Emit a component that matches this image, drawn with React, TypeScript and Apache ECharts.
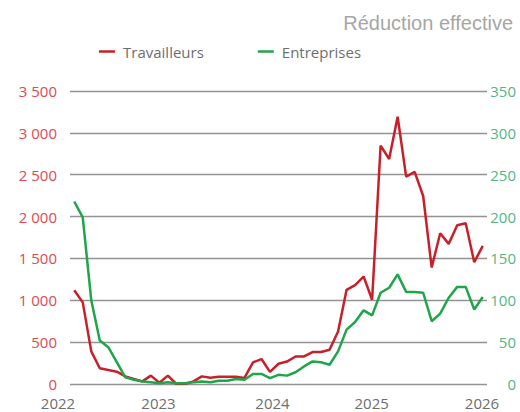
import React, { useEffect, useRef } from "react";
import * as echarts from "echarts";

// ---- Data ----
const months: string[] = (() => {
  const out: string[] = [];
  for (let y = 2022; y <= 2026; y++) {
    for (let m = 1; m <= 12; m++) {
      if (out.length < 49) out.push(`${y}-${String(m).padStart(2, "0")}`);
    }
  }
  return out;
})();

const travailleurs = [
  1120, 975, 390, 188, 168, 147, 91, 60, 31, 100, 15, 100, 0, 0, 31, 91, 75, 87,
  87, 87, 72, 258, 298, 145, 242, 268, 329, 329, 382, 382, 409, 628, 1125, 1181,
  1284, 1006, 2847, 2688, 3193, 2477, 2533, 2246, 1391, 1801, 1674, 1897, 1921,
  1455, 1650,
];

const entreprises = [
  218, 199, 100, 52, 44, 26, 8, 5, 3, 2, 1, 2, 1, 1, 2, 3, 2, 4, 4, 6, 5, 12, 12,
  7, 11, 10, 14, 21, 27, 26, 23, 39, 65, 74, 88, 82, 109, 115, 131, 110, 110, 109,
  75, 84, 103, 116, 116, 89, 104,
];

const yearLabels = ["2022", "2023", "2024", "2025", "2026"];
const seriesNames = ["Travailleurs", "Entreprises"];
const titleText = "Réduction effective";

// ---- Layout / style ----
const yearLabelX = [58, 158.5, 272.5, 371.7, 482];
const RED = "#c8202a";
const GREEN = "#1fa64a";
const FONT = "'Open Sans', sans-serif";

const fmtThousands = (v: number) =>
  String(v).replace(/\B(?=(\d{3})+(?!\d))/g, " ");

export default function App() {
  const ref = useRef<HTMLDivElement>(null);

  useEffect(() => {
    if (!ref.current) return;
    const chart = echarts.init(ref.current, undefined, { renderer: "svg" });
    chart.setOption({
      animation: false,
      backgroundColor: "#ffffff",
      title: {
        text: titleText,
        right: 2,
        top: 8,
        textStyle: {
          fontFamily: "'Liberation Sans', Arial, sans-serif",
          fontSize: 20,
          fontWeight: "normal",
          color: "#a6a6a6",
        },
      },
      legend: {
        left: 94,
        top: 39,
        icon: "rect",
        itemWidth: 16,
        itemHeight: 2.5,
        itemGap: 54,
        textStyle: {
          fontFamily: FONT,
          fontSize: 15,
          color: "#6e6e6e",
          padding: [0, 0, 0, 3],
        },
        data: seriesNames,
      },
      grid: { left: 70, right: 33, top: 91, bottom: 28 },
      xAxis: {
        type: "category",
        data: months,
        boundaryGap: true,
        axisLine: { show: false },
        axisTick: { show: false },
        axisLabel: { show: false },
        splitLine: { show: false },
      },
      yAxis: [
        {
          type: "value",
          min: 0,
          max: 3500,
          interval: 500,
          axisLine: { show: false },
          axisTick: { show: false },
          axisLabel: {
            margin: 13,
            fontFamily: FONT,
            fontSize: 15,
            color: "#e0494f",
            formatter: (v: number) => fmtThousands(v),
          },
          splitLine: { lineStyle: { color: "#939393", width: 1.4 } },
        },
        {
          type: "value",
          min: 0,
          max: 350,
          interval: 50,
          position: "right",
          axisLine: { show: false },
          axisTick: { show: false },
          axisLabel: {
            margin: 29,
            align: "right",
            fontFamily: FONT,
            fontSize: 15,
            color: "#55b585",
          },
          splitLine: { show: false },
        },
      ],
      series: [
        {
          name: seriesNames[0],
          type: "line",
          data: travailleurs,
          yAxisIndex: 0,
          symbol: "none",
          lineStyle: { color: RED, width: 2.5 },
          itemStyle: { color: RED },
        },
        {
          name: seriesNames[1],
          type: "line",
          data: entreprises,
          yAxisIndex: 1,
          symbol: "none",
          lineStyle: { color: GREEN, width: 2.5 },
          itemStyle: { color: GREEN },
        },
      ],
      graphic: yearLabels.map((t, i) => ({
        type: "text",
        x: yearLabelX[i],
        y: 403,
        style: {
          text: t,
          fontFamily: FONT,
          fontSize: 15,
          fill: "#6e6e6e",
          align: "center",
          verticalAlign: "middle",
        },
      })),
    });
    return () => chart.dispose();
  }, []);

  return (
    <div
      ref={ref}
      style={{ position: "fixed", left: 0, top: 0, width: 520, height: 412 }}
    />
  );
}
